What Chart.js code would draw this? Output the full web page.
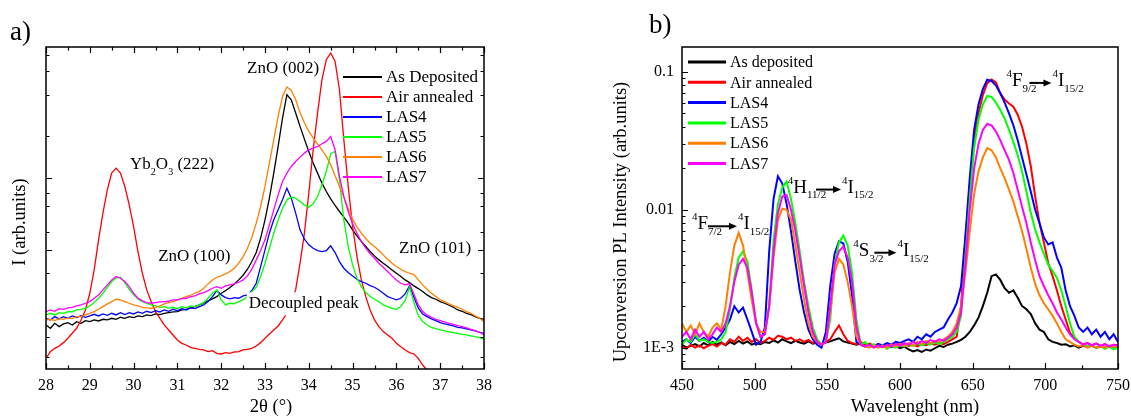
<!DOCTYPE html>
<html>
<head>
<meta charset="utf-8">
<script src="https://cdn.jsdelivr.net/npm/chart.js@4.4.1/dist/chart.umd.min.js"></script>
<style>
  html, body { margin: 0; padding: 0; background: #fff; }
  #wrap { position: relative; width: 1131px; height: 417px; }
  canvas { position: absolute; top: 0; }
  #xrd { left: 0; }
  #pl { left: 565px; }
</style>
</head>
<body>
<div id="wrap">
  <canvas id="xrd" width="565" height="417"></canvas>
  <canvas id="pl" width="566" height="417"></canvas>
</div>
<script>
// ---------- a) XRD, intensity in arbitrary units ----------
const twoTheta = [
  28.0,28.1,28.2,28.3,28.4,28.5,28.6,28.7,28.8,28.9,
  29.0,29.1,29.2,29.3,29.4,29.5,29.6,29.7,29.8,29.9,
  30.0,30.1,30.2,30.3,30.4,30.5,30.6,30.7,30.8,30.9,
  31.0,31.1,31.2,31.3,31.4,31.5,31.6,31.7,31.8,31.9,
  32.0,32.1,32.2,32.3,32.4,32.5,32.6,32.7,32.8,32.9,
  33.0,33.1,33.2,33.3,33.4,33.5,33.6,33.7,33.8,33.9,
  34.0,34.1,34.2,34.3,34.4,34.5,34.6,34.7,34.8,34.9,
  35.0,35.1,35.2,35.3,35.4,35.5,35.6,35.7,35.8,35.9,
  36.0,36.1,36.2,36.3,36.4,36.5,36.6,36.7,36.8,36.9,
  37.0,37.1,37.2,37.3,37.4,37.5,37.6,37.7,37.8,37.9,
  38.0
];
const xrdAsDeposited = [
  132,122,137,127,135,139,132,142,137,145,
  142,147,144,149,147,152,149,155,152,157,
  154,159,157,162,160,165,163,167,169,171,
  172,177,179,183,187,192,197,204,210,217,
  227,235,244,255,267,281,299,322,349,392,
  447,512,587,667,752,822,807,767,727,689,
  652,617,587,557,532,510,490,472,455,437,
  417,399,382,367,352,339,327,317,307,297,
  287,277,267,259,249,241,232,222,214,209,
  202,197,191,185,177,173,167,163,157,152,
  149
];
const xrdAirAnnealed = [
  32,52,62,69,79,92,107,122,147,177,
  227,297,387,467,537,587,602,587,547,492,
  427,352,287,237,202,172,152,132,117,102,
  87,77,72,65,62,59,57,52,55,47,
  45,49,47,51,52,57,59,62,69,79,
  92,105,117,129,147,167,202,237,317,407,
  527,657,767,867,927,947,922,837,687,547,
  427,337,267,217,177,147,127,112,102,92,
  77,67,57,49,45,32,12,-3,-18,-30,
  -40,-50,-60,-70,-80,-90,-100,-110,-120,-130,
  -140
];
const xrdLAS4 = [
  152,147,157,150,157,152,159,154,160,155,
  159,164,159,165,161,167,162,169,163,169,
  165,171,167,173,169,175,171,177,173,179,
  175,181,177,183,181,187,192,202,217,235,
  222,214,210,214,212,219,222,235,257,307,
  357,407,447,477,507,542,512,467,417,389,
  372,362,355,352,355,369,349,322,302,289,
  279,269,262,257,250,245,237,227,217,212,
  207,212,225,249,215,182,165,157,150,145,
  139,135,132,129,125,123,120,117,114,110,
  107
];
const xrdLAS5 = [
  162,167,162,169,167,172,171,177,179,182,
  189,199,212,227,245,262,272,275,259,239,
  222,210,202,197,192,189,185,187,182,185,
  181,187,183,189,187,192,199,212,227,237,
  207,192,197,195,202,207,217,232,245,277,
  317,362,407,447,482,507,515,512,502,492,
  485,495,517,552,592,645,652,567,447,367,
  312,272,247,229,217,209,202,192,187,182,
  179,187,205,245,200,160,142,132,125,121,
  117,114,111,109,107,104,102,99,97,94,
  89
];
const xrdLAS6 = [
  147,149,145,151,149,153,151,157,157,162,
  167,172,179,187,195,202,209,207,202,197,
  192,189,185,183,182,185,189,195,199,202,
  207,212,217,221,227,232,242,255,267,275,
  279,285,292,302,317,337,362,395,437,487,
  547,617,687,757,817,845,835,807,769,737,
  712,692,675,657,637,612,579,547,515,482,
  449,425,407,391,377,367,355,342,329,317,
  307,299,292,287,283,267,252,239,227,217,
  207,202,195,190,185,179,172,167,159,152,
  142
];
const xrdLAS7 = [
  172,177,173,181,179,183,185,189,192,197,
  202,212,222,237,252,267,277,272,262,247,
  227,212,204,199,197,199,201,202,203,207,
  207,211,212,217,219,225,229,235,242,247,
  242,249,252,255,260,267,279,299,327,355,
  387,432,477,522,562,587,607,622,635,647,
  657,662,667,675,682,697,657,577,517,472,
  435,407,382,362,345,332,317,305,292,279,
  267,257,252,256,225,192,172,162,155,149,
  145,141,137,134,130,127,123,119,115,110,
  102
];
const xrdTicksXMajor = [28, 29, 30, 31, 32, 33, 34, 35, 36, 37, 38];
const xrdTicksXMinor = [28.5, 29.5, 30.5, 31.5, 32.5, 33.5, 34.5, 35.5, 36.5, 37.5];
const xrdTicksYMajor = [572, 357];
const xrdTicksYMinor = [942, 894, 822, 697, 527, 487, 412, 287, 97, 37];

// ---------- b) upconversion PL, intensity in units of 1E-3 arb.units ----------
const wavelength = [
  450,453,456,459,462,465,468,471,474,477,
  480,483,486,489,492,495,498,501,504,507,
  510,513,516,519,522,525,528,531,534,537,
  540,543,546,549,552,555,558,561,564,567,
  570,573,576,579,582,585,588,591,594,597,
  600,603,606,609,612,615,618,621,624,627,
  630,633,636,639,642,645,648,651,654,657,
  660,663,666,669,672,675,678,681,684,687,
  690,693,696,699,702,705,708,711,714,717,
  720,723,726,729,732,735,738,741,744,747,
  750
];
const plAsDeposited = [
  1.05,1.00,1.03,1.06,1.02,1.08,1.04,1.10,1.05,1.09,
  1.04,1.10,1.06,1.12,1.07,1.11,1.05,1.08,1.06,1.10,
  1.08,1.13,1.09,1.15,1.11,1.08,1.12,1.09,1.07,1.11,
  1.07,1.09,1.06,1.09,1.11,1.14,1.17,1.11,1.09,1.07,
  1.05,1.07,1.04,1.06,1.03,1.05,1.02,1.04,1.01,1.03,
  0.99,1.02,0.97,0.94,0.96,0.93,0.97,0.95,0.99,1.03,
  1.01,1.05,1.07,1.10,1.14,1.20,1.30,1.45,1.65,2.0,
  2.5,3.3,3.4,3.1,2.7,2.5,2.6,2.3,2.0,1.9,
  1.75,1.5,1.35,1.3,1.15,1.1,1.08,1.05,1.06,1.02,
  1.04,1.0,1.03,1.01,1.03,1.0,1.02,1.0,1.03,1.01,
  1.02
];
const plAirAnnealed = [
  1.02,0.98,1.05,1.0,1.04,0.99,1.03,1.06,1.02,1.08,
  1.05,1.15,1.1,1.2,1.12,1.18,1.1,1.15,1.08,1.12,
  1.18,1.14,1.22,1.2,1.15,1.18,1.12,1.15,1.1,1.14,
  1.08,1.12,1.06,1.1,1.15,1.3,1.45,1.25,1.12,1.08,
  1.06,1.1,1.04,1.07,1.03,1.06,1.02,1.05,1.03,1.06,
  1.04,1.07,1.03,1.05,1.02,1.06,1.04,1.07,1.05,1.08,
  1.06,1.1,1.15,1.2,2.0,6.0,15,33,50,68,
  83,88,84,70,63,59,56,49,40,30,
  20.7,12.5,8,5.8,4.1,3.3,2.6,2.0,1.6,1.28,
  1.18,1.1,1.06,1.08,1.04,1.07,1.03,1.06,1.02,1.05,
  1.04
];
const plLAS4 = [
  1.1,1.15,1.08,1.2,1.12,1.18,1.1,1.2,1.14,1.25,
  1.4,1.6,2.0,1.8,1.95,1.6,1.3,1.05,1.1,1.4,
  5.0,12,17.5,15.5,11,7,4.2,2.6,1.8,1.35,
  1.15,1.05,1.0,1.3,2.8,4.8,5.9,5.7,4.2,2.4,
  1.1,1.05,1.02,1.05,1.03,1.06,1.04,1.08,1.05,1.1,
  1.08,1.12,1.15,1.1,1.2,1.15,1.25,1.2,1.3,1.35,
  1.4,1.6,1.8,2.1,2.8,6.5,17,38,58,75,
  88,86,80,70,60,50,41,32,24,18,
  13.5,10,8,6.3,5.6,5.8,4.5,3.8,2.6,2.0,
  1.7,1.4,1.3,1.4,1.25,1.35,1.2,1.3,1.15,1.25,
  1.1
];
const plLAS5 = [
  1.05,1.15,1.1,1.25,1.12,1.15,1.1,1.08,1.1,1.15,
  1.3,1.9,3.2,4.5,5.0,4.2,2.6,1.5,1.2,1.25,
  2.0,6.0,11,14.5,16,12,8,5.0,3.0,2.0,
  1.4,1.15,1.05,1.1,1.6,4.0,5.8,6.5,5.5,3.5,
  1.6,1.05,1.1,1.02,1.06,1.0,1.04,0.98,1.03,1.0,
  1.04,1.02,1.06,1.03,1.07,1.04,1.08,1.05,1.1,1.06,
  1.1,1.15,1.2,1.3,1.7,4.5,12,28,45,58,
  67,66,60,53,46,38,31,25,19,13.5,
  9.5,7.2,5.8,4.8,4.0,3.6,3.2,2.6,2.0,1.5,
  1.2,1.1,1.05,1.02,1.04,1.0,1.03,0.98,1.02,0.97,
  1.0
];
const plLAS6 = [
  1.5,1.3,1.45,1.25,1.5,1.3,1.2,1.4,1.5,1.35,
  2.0,3.5,5.5,6.8,5.5,3.5,2.2,1.5,1.3,1.3,
  2.0,4.5,8.5,10.2,10.0,8.5,5.5,3.5,2.2,1.5,
  1.2,1.1,1.05,1.1,1.8,3.5,4.4,4.0,3.0,2.0,
  1.2,1.05,1.02,1.0,1.04,1.0,1.03,1.0,1.05,1.02,
  1.06,1.03,1.08,1.04,1.1,1.06,1.12,1.08,1.12,1.1,
  1.15,1.2,1.3,1.5,2.0,3.5,7,13,19,24,
  28,27,24,20,17,14,11.5,9,7,5.2,
  3.8,2.9,2.4,2.1,1.9,1.7,1.5,1.3,1.15,1.1,
  1.05,1.02,1.04,1.0,1.03,1.0,1.02,1.0,1.03,1.01,
  1.02
];
const plLAS7 = [
  1.2,1.3,1.15,1.35,1.2,1.3,1.15,1.25,1.4,1.3,
  1.5,2.0,3.0,4.0,4.4,3.8,2.5,1.5,1.2,1.25,
  2.0,5.0,9.5,12.5,12.8,10,7,4.5,2.8,1.8,
  1.3,1.1,1.05,1.1,2.0,4.0,5.0,5.4,4.5,3.0,
  1.4,1.05,1.02,1.05,1.0,1.04,1.01,1.05,1.02,1.07,
  1.03,1.08,1.05,1.1,1.06,1.12,1.08,1.14,1.1,1.15,
  1.12,1.18,1.25,1.4,1.8,4,10,20,30,38,
  42,41,37,32,27,23,18.5,14,10.5,8,
  5.8,4.3,3.3,2.8,2.4,2.1,1.8,1.6,1.4,1.25,
  1.15,1.1,1.05,1.08,1.04,1.07,1.03,1.06,1.02,1.05,
  1.03
];
const plTicksXMajor = [450, 500, 550, 600, 650, 700, 750];
const plTicksXMinor = [475, 525, 575, 625, 675, 725];
const plTickValues = [1, 10, 100];
const plTickLabels = ['1E-3', '0.01', '0.1'];
const plTicksYMinor = [0.8, 0.9, 2, 3, 4, 5, 6, 7, 8, 9, 20, 30, 40, 50, 60, 70, 80, 90];

const xrdNames = ['As Deposited', 'Air annealed', 'LAS4', 'LAS5', 'LAS6', 'LAS7'];
const plNames = ['As deposited', 'Air annealed', 'LAS4', 'LAS5', 'LAS6', 'LAS7'];
const colors = ['#000000', '#ff0000', '#0000ff', '#00ff00', '#ff8000', '#ff00ff'];

const SERIF = '"Liberation Serif", "Times New Roman", serif';

// annotation text, anchored in data coordinates
const xrdNotes = [
  { x: 32.59, y: 900, size: 17, parts: [{ t: 'ZnO (002)' }] },
  { x: 29.92, y: 612, size: 17, parts: [{ t: 'Yb' }, { t: '2', dn: 1 }, { t: 'O' }, { t: '3', dn: 1 }, { t: ' (222)' }] },
  { x: 30.56, y: 337, size: 17, parts: [{ t: 'ZnO (100)' }] },
  { x: 36.06, y: 362, size: 17, parts: [{ t: 'ZnO (101)' }] },
  { x: 32.63, y: 197, size: 17, box: true, parts: [{ t: 'Decoupled peak' }] }
];
const plNotes = [
  { x: 673.2, y: 86.1, size: 19, parts: [{ t: '4', up: 1 }, { t: 'F' }, { t: '9/2', dn: 1, arrow: [7, 22] }, { t: '4', up: 1 }, { t: 'I' }, { t: '15/2', dn: 1 }] },
  { x: 522.8, y: 14.5, size: 19, parts: [{ t: '4', up: 1 }, { t: 'H' }, { t: '11/2', dn: 1, arrow: [9, 25] }, { t: '4', up: 1 }, { t: 'I' }, { t: '15/2', dn: 1 }] },
  { x: 456.8, y: 7.85, size: 19, parts: [{ t: '4', up: 1 }, { t: 'F' }, { t: '7/2', dn: 1, arrow: [0, 29] }, { t: '4', up: 1 }, { t: 'I' }, { t: '15/2', dn: 1 }] },
  { x: 567.9, y: 5.05, size: 19, parts: [{ t: '4', up: 1 }, { t: 'S' }, { t: '3/2', dn: 1, arrow: [5, 22] }, { t: '4', up: 1 }, { t: 'I' }, { t: '15/2', dn: 1 }] }
];

function makeSets(xs, rows, names, width) {
  return rows.map((ys, i) => ({
    label: names[i],
    data: xs.map((x, k) => ({ x: x, y: ys[k] })),
    borderColor: colors[i],
    borderWidth: width,
    pointRadius: 0,
    tension: 0,
    fill: false,
    order: rows.length - i
  }));
}

function drawRich(ctx, note, px, py) {
  const size = note.size;
  const small = Math.round(size * 0.6);
  ctx.textBaseline = 'middle';
  ctx.textAlign = 'left';
  if (note.box) {
    ctx.font = size + 'px ' + SERIF;
    const w = ctx.measureText(note.parts.map(p => p.t).join('')).width;
    ctx.fillStyle = '#fff';
    ctx.fillRect(px - 2, py - 11, w + 4, 23);
  }
  ctx.fillStyle = '#000';
  let cx = px;
  note.parts.forEach(p => {
    const fs = (p.up || p.dn) ? small : size;
    ctx.font = fs + 'px ' + SERIF;
    const dy = p.up ? -size * 0.36 : (p.dn ? size * 0.42 : 0);
    ctx.fillText(p.t, cx, py + dy);
    let w = ctx.measureText(p.t).width;
    if (p.arrow) {
      const a0 = cx + p.arrow[0], a1 = a0 + p.arrow[1], ay = py + 2;
      ctx.strokeStyle = '#000';
      ctx.lineWidth = 2;
      ctx.beginPath();
      ctx.moveTo(a0, ay);
      ctx.lineTo(a1 - 6, ay);
      ctx.stroke();
      ctx.beginPath();
      ctx.moveTo(a1, ay);
      ctx.lineTo(a1 - 8, ay - 3.5);
      ctx.lineTo(a1 - 8, ay + 3.5);
      ctx.closePath();
      ctx.fill();
      w = Math.max(w, p.arrow[0] + p.arrow[1] + 1);
    }
    cx += w;
  });
}

function panelPlugin(cfg) {
  return {
    id: 'panel',
    afterDatasetsDraw(chart) {
      const { ctx, chartArea: a, scales: { x, y } } = chart;
      ctx.save();
      cfg.notes.forEach(n => drawRich(ctx, n, x.getPixelForValue(n.x), y.getPixelForValue(n.y)));

      // legend
      const L = cfg.legend;
      cfg.names.forEach((name, i) => {
        const ly = L.y0 + i * L.dy;
        ctx.strokeStyle = colors[i];
        ctx.lineWidth = L.lw;
        ctx.beginPath();
        ctx.moveTo(L.x1, ly);
        ctx.lineTo(L.x2, ly);
        ctx.stroke();
        ctx.fillStyle = '#000';
        ctx.font = L.size + 'px ' + SERIF;
        ctx.textAlign = 'left';
        ctx.textBaseline = 'middle';
        ctx.fillText(name, L.tx, ly + 1);
      });

      // frame and inward ticks
      ctx.strokeStyle = '#000';
      ctx.lineWidth = 1.5;
      ctx.strokeRect(a.left, a.top, a.right - a.left, a.bottom - a.top);
      ctx.lineWidth = 1.2;
      ctx.beginPath();
      const put = (scale, vals, len, horiz) => vals.forEach(v => {
        const p = Math.round(scale.getPixelForValue(v)) + 0.5;
        if (horiz) {
          ctx.moveTo(p, a.bottom); ctx.lineTo(p, a.bottom - len);
          if (cfg.mirror) { ctx.moveTo(p, a.top); ctx.lineTo(p, a.top + len); }
        } else {
          ctx.moveTo(a.left, p); ctx.lineTo(a.left + len, p);
          if (cfg.mirror) { ctx.moveTo(a.right, p); ctx.lineTo(a.right - len, p); }
        }
      });
      put(x, cfg.ticks.xMajor, 6, true);
      put(x, cfg.ticks.xMinor, 3.5, true);
      put(y, cfg.ticks.yMajor, 6, false);
      put(y, cfg.ticks.yMinor, 3.5, false);
      ctx.stroke();

      // axis titles and panel letter
      ctx.fillStyle = '#000';
      ctx.font = '18.5px ' + SERIF;
      ctx.textAlign = 'center';
      ctx.textBaseline = 'middle';
      ctx.fillText(cfg.xTitle, cfg.xTitlePos[0], cfg.xTitlePos[1]);
      ctx.save();
      ctx.translate(cfg.yTitlePos[0], cfg.yTitlePos[1]);
      ctx.rotate(-Math.PI / 2);
      ctx.fillText(cfg.yTitle, 0, 0);
      ctx.restore();
      ctx.font = '27px ' + SERIF;
      ctx.textAlign = 'left';
      ctx.textBaseline = 'alphabetic';
      ctx.fillText(cfg.letter, cfg.letterPos[0], cfg.letterPos[1]);
      ctx.restore();
    }
  };
}

// fixed axis box sizes, no label overhang padding
function fixX(s) { s.height = 48; s.paddingLeft = 0; s.paddingRight = 0; }

const base = {
  responsive: false,
  animation: false,
  events: [],
  plugins: { legend: { display: false }, tooltip: { enabled: false } }
};

new Chart(document.getElementById('xrd'), {
  type: 'line',
  data: {
    datasets: makeSets(twoTheta,
      [xrdAsDeposited, xrdAirAnnealed, xrdLAS4, xrdLAS5, xrdLAS6, xrdLAS7], xrdNames, 1.3)
  },
  options: Object.assign({}, base, {
    layout: { padding: { top: 47, right: 81, left: 0, bottom: 0 } },
    scales: {
      x: {
        type: 'linear', min: 28, max: 38,
        ticks: { stepSize: 1, color: '#000', padding: 7, maxRotation: 0, font: { family: SERIF, size: 16 } },
        grid: { display: false, drawTicks: false },
        border: { display: false },
        afterFit: fixX
      },
      y: {
        type: 'linear', min: 0, max: 965,
        ticks: { display: false },
        grid: { display: false, drawTicks: false },
        border: { display: false },
        afterFit(s) { s.width = 46; }
      }
    }
  }),
  plugins: [panelPlugin({
    notes: xrdNotes,
    names: xrdNames,
    legend: { x1: 343, x2: 382, tx: 386, y0: 77, dy: 20, lw: 2, size: 17 },
    mirror: true,
    ticks: { xMajor: xrdTicksXMajor, xMinor: xrdTicksXMinor, yMajor: xrdTicksYMajor, yMinor: xrdTicksYMinor },
    xTitle: '2\u03b8 (\u00b0)', xTitlePos: [271, 407],
    yTitle: 'I (arb.units)', yTitlePos: [20, 222],
    letter: 'a)', letterPos: [10, 40]
  })]
});

new Chart(document.getElementById('pl'), {
  type: 'line',
  data: {
    datasets: makeSets(wavelength,
      [plAsDeposited, plAirAnnealed, plLAS4, plLAS5, plLAS6, plLAS7], plNames, 2)
  },
  options: Object.assign({}, base, {
    layout: { padding: { top: 47, right: 13, left: 0, bottom: 0 } },
    scales: {
      x: {
        type: 'linear', min: 450, max: 750,
        ticks: { stepSize: 50, color: '#000', padding: 7, maxRotation: 0, font: { family: SERIF, size: 16 } },
        grid: { display: false, drawTicks: false },
        border: { display: false },
        afterFit: fixX
      },
      y: {
        type: 'logarithmic', min: 0.705, max: 151.7,
        afterBuildTicks(s) { s.ticks = plTickValues.map(v => ({ value: v })); },
        ticks: {
          color: '#000', padding: 8, font: { family: SERIF, size: 16 },
          callback: (v) => plTickLabels[plTickValues.indexOf(v)]
        },
        grid: { display: false, drawTicks: false },
        border: { display: false },
        afterFit(s) { s.width = 117; }
      }
    }
  }),
  plugins: [panelPlugin({
    notes: plNotes,
    names: plNames,
    legend: { x1: 123, x2: 161, tx: 165, y0: 62, dy: 20.3, lw: 3, size: 16 },
    mirror: false,
    ticks: { xMajor: plTicksXMajor, xMinor: plTicksXMinor, yMajor: plTickValues, yMinor: plTicksYMinor },
    xTitle: 'Wavelenght (nm)', xTitlePos: [350, 407],
    yTitle: 'Upconversion PL Intensity (arb.units)', yTitlePos: [56, 222],
    letter: 'b)', letterPos: [84, 33]
  })]
});
</script>
</body>
</html>
